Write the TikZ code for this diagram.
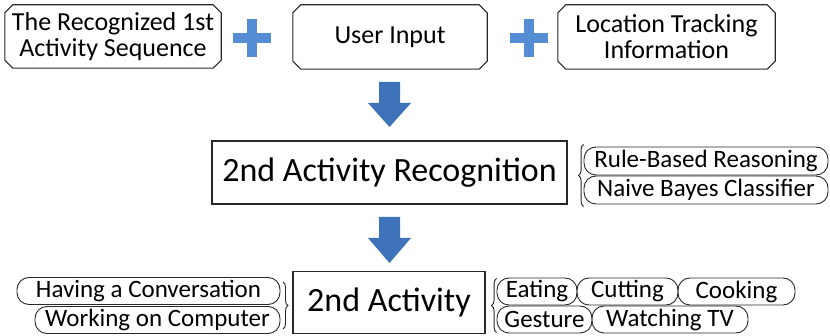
\documentclass[tikz,border=0pt]{standalone}
\usepackage{fontspec}
\setmainfont{Carlito}
\usetikzlibrary{decorations.pathreplacing}
\definecolor{plusblue}{RGB}{84,141,212}
\definecolor{arrowblue}{RGB}{62,115,185}
\definecolor{edgegray}{RGB}{40,40,40}
\begin{document}
\begin{tikzpicture}[x=1pt,y=-1pt,
  inbox/.style={inner sep=0pt, align=center, font=\fontsize{26}{26}\selectfont},
  bigbox/.style={draw=edgegray, line width=1.1pt, inner sep=0pt, font=\fontsize{34}{36}\selectfont},
  pill/.style={draw=edgegray, line width=0.9pt, rounded corners=12pt, inner sep=0pt, minimum height=27pt, font=\fontsize{25}{26}\selectfont},
  octline/.style={draw=edgegray, line width=1.1pt},
  bracestyle/.style={draw=edgegray, line width=0.9pt, decorate, decoration={brace, amplitude=5pt}},
  plusfill/.style={fill=plusblue},
  arrowfill/.style={fill=arrowblue}]
\useasboundingbox (0,0) rectangle (830,336);

% input boxes
\node[inbox, minimum width=216pt, minimum height=63pt] (in1) at (113,36.5) {The Recognized 1st\\Activity Sequence};
\node[inbox, minimum width=194pt, minimum height=64pt] (in2) at (390,37) {User Input};
\node[inbox, minimum width=217pt, minimum height=64pt] (in3) at (666.5,37) {Location Tracking\\Information};
\foreach \n in {in1,in2,in3}
  \draw[octline] ([xshift=8pt]\n.north west) -- ([xshift=-8pt]\n.north east) -- ([yshift=-8pt]\n.north east)
    -- ([yshift=8pt]\n.south east) -- ([xshift=-8pt]\n.south east) -- ([xshift=8pt]\n.south west)
    -- ([yshift=8pt]\n.south west) -- ([yshift=-8pt]\n.north west) -- cycle;

% plus signs
\fill[plusfill] (246.5,19) rectangle (256.5,57);
\fill[plusfill] (232.5,33) rectangle (270.5,43);
\fill[plusfill] (523.5,19) rectangle (533.5,57);
\fill[plusfill] (509.5,33) rectangle (547.5,43);

% recognition box
\node[bigbox, minimum width=355pt, minimum height=63pt] (rec) at (389.5,172.5) {2nd Activity Recognition};
\node[pill, minimum width=244pt, minimum height=28pt] (rbr) at (706,161) {Rule-Based Reasoning};
\node[pill, minimum width=244pt, minimum height=28pt] (nbc) at (706,190) {Naive Bayes Classifier};
\draw[bracestyle] ([yshift=-2pt]nbc.south west) -- ([yshift=2pt]rbr.north west);

% block arrows
\fill[arrowfill] (379,82) -- (400,82) -- (400,103) -- (411,103) -- (389.5,127) -- (368,103) -- (379,103) -- cycle;
\fill[arrowfill] (379,217) -- (400,217) -- (400,238) -- (411,238) -- (389.5,263) -- (368,238) -- (379,238) -- cycle;

% activity box
\node[bigbox, minimum width=192pt, minimum height=62pt] (act) at (389,302.5) {2nd Activity};

% left pills
\node[pill, minimum width=263pt] (hav) at (148.5,291) {Having a Conversation};
\node[pill, minimum width=245pt] (wor) at (157.5,320) {Working on Computer};
\coordinate (lbt) at (283,282);
\coordinate (lbb) at (283,329);
\draw[bracestyle] (lbt) -- (lbb);

% right pills
\node[pill, minimum width=80pt] (eat) at (537,291.5) {Eating};
\node[pill, minimum width=101pt] (cut) at (627.5,291.5) {Cutting};
\node[pill, minimum width=117pt] (coo) at (736.5,291.5) {Cooking};
\node[pill, minimum width=95pt] (ges) at (544.5,319.5) {Gesture};
\node[pill, minimum width=156pt] (wat) at (670,319.5) {Watching TV};
\draw[bracestyle] ([yshift=1pt]ges.south west) -- ([yshift=-1pt]eat.north west);
\end{tikzpicture}
\end{document}
